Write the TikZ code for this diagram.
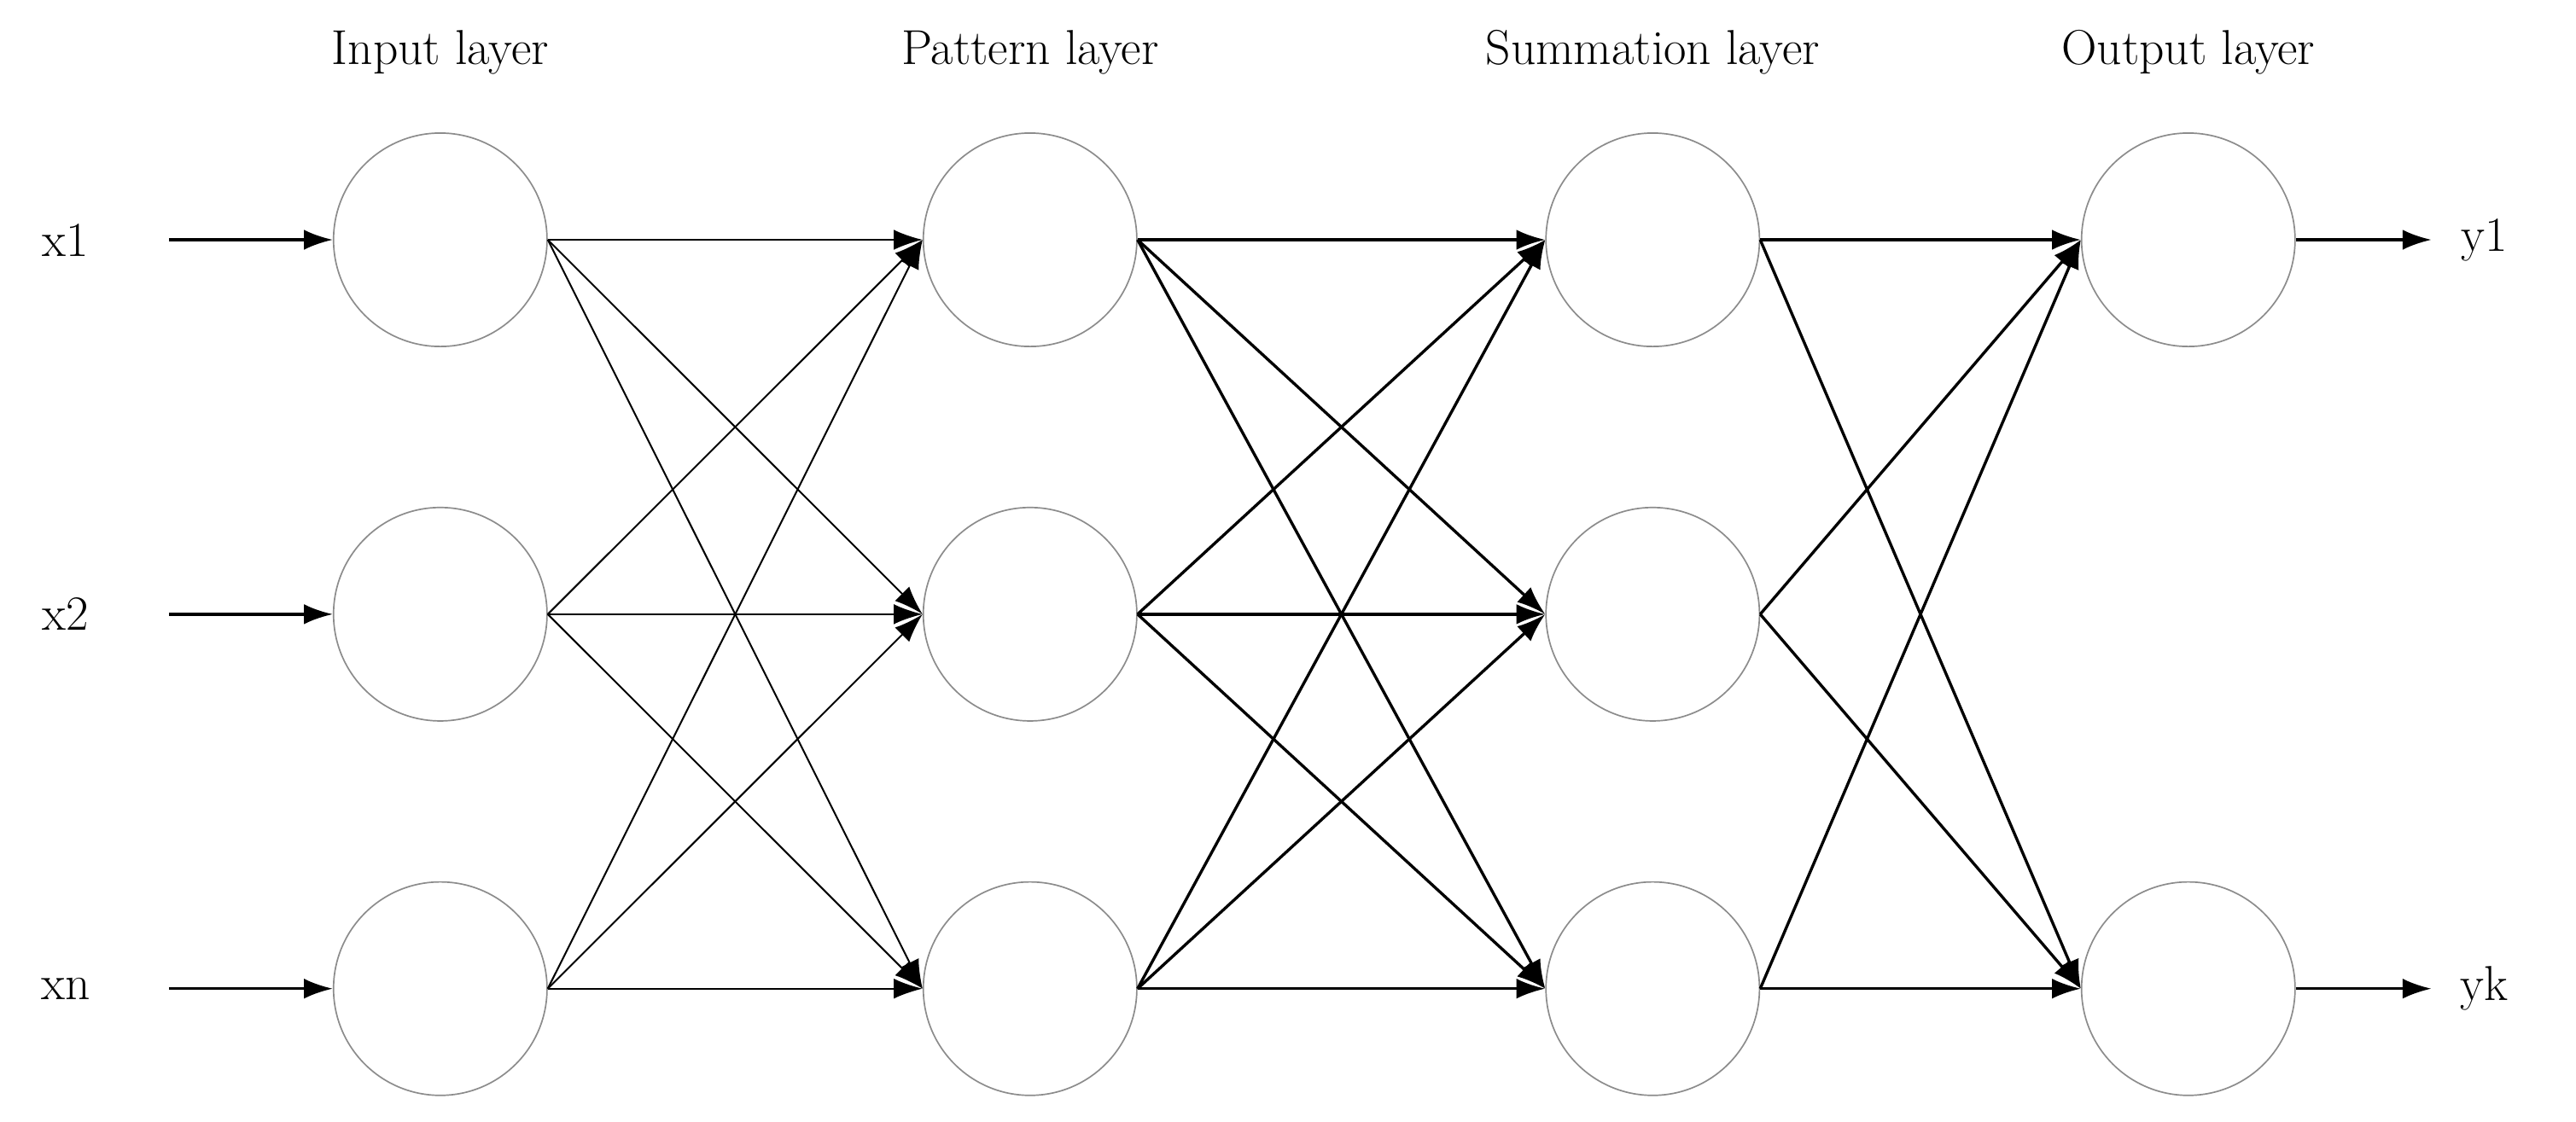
\documentclass[tikz,border=0pt]{standalone}
\usetikzlibrary{arrows.meta}
\begin{document}
\begin{tikzpicture}[x=0.02cm,y=-0.02cm,
 neuron/.style={circle,draw=black!45,line width=0.5pt,minimum size=2.6cm,inner sep=0pt},
 lbl/.style={font=\fontsize{17}{20}\selectfont},
 thin arr/.style={-{Latex[length=10pt,width=7pt]},line width=0.6pt},
 arr/.style={-{Latex[length=10pt,width=7pt]},line width=1pt}]
\useasboundingbox (0,0) rectangle (1568,683);
\foreach \n/\y in {1/146,2/374,3/602}{
 \node[neuron] (i\n) at (268,\y) {};
 \node[neuron] (p\n) at (627,\y) {};
 \node[neuron] (s\n) at (1006,\y) {};
}
\node[neuron] (o1) at (1332,146) {};
\node[neuron] (o2) at (1332,602) {};
\node[lbl] (t1) at (268,32) {Input layer};
\node[lbl] (t2) at (627,32) {Pattern layer};
\node[lbl] (t3) at (1006,32) {Summation layer};
\node[lbl] (t4) at (1332,32) {Output layer};
\node[lbl] (x1) at (40,146) {x1};
\node[lbl] (x2) at (40,374) {x2};
\node[lbl] (xn) at (40,602) {xn};
\node[lbl] (y1) at (1512,146) {y1};
\node[lbl] (yk) at (1512,602) {yk};
\coordinate (a1) at (103,146); \coordinate (a2) at (103,374); \coordinate (a3) at (103,602);
\coordinate (b1) at (1480,146); \coordinate (b2) at (1480,602);
\foreach \n in {1,2,3} \draw[arr] (a\n) -- (i\n.west);
\draw[arr] (o1.east) -- (b1);
\draw[arr] (o2.east) -- (b2);
\foreach \a in {1,2,3}{\foreach \b in {1,2,3}{
 \draw[thin arr] (i\a.east) -- (p\b.west);
 \draw[arr] (p\a.east) -- (s\b.west);}
 \foreach \b in {1,2} \draw[arr] (s\a.east) -- (o\b.west);}
\end{tikzpicture}
\end{document}
